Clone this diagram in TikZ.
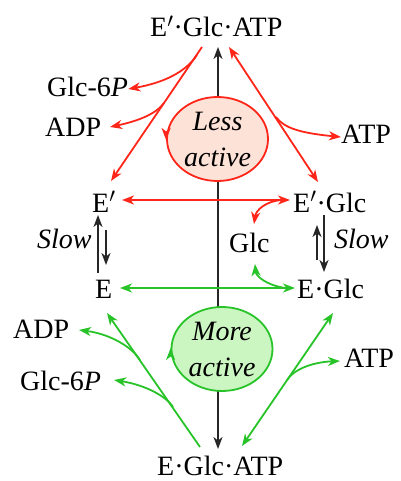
\documentclass[tikz,border=0pt]{standalone}
\usepackage{fontspec}
\setmainfont{Liberation Serif}
\usetikzlibrary{arrows.meta,shapes.geometric}
\definecolor{rline}{RGB}{255,38,25}
\definecolor{gline}{RGB}{40,195,40}
\definecolor{rfill}{RGB}{253,226,216}
\definecolor{gfill}{RGB}{203,246,194}
\tikzset{
  lbl/.style={anchor=base west,inner sep=0pt,font=\fontsize{28}{34}\selectfont},
  tip/.style={-{Stealth[length=12pt,width=9pt,inset=3.5pt]}},
  btip/.style={{Stealth[length=12pt,width=9pt,inset=3.5pt]}-{Stealth[length=12pt,width=9pt,inset=3.5pt]}},
  redc/.style={draw=rline,line width=1.8pt},
  grnc/.style={draw=gline,line width=1.8pt},
  blkc/.style={draw=black!85,line width=1.7pt},
  blob/.style={ellipse,line width=1.8pt,inner sep=0pt,minimum width=101pt,minimum height=84pt,align=center,font=\fontsize{28}{36}\selectfont\itshape}
}
\begin{document}
\begin{tikzpicture}[x=1pt,y=-1pt]
\useasboundingbox (0,0) rectangle (400,481);
% text nodes
\node[lbl] (EGAt) at (150,37) {E$'$·Glc·ATP};
\node[lbl] (G6Pt) at (47,97) {Glc-6\textit{P}};
\node[lbl] (ADPt) at (45,137) {ADP};
\node[lbl] (ATPt) at (341,143) {ATP};
\node[lbl] (Ep) at (92,212) {E$'$};
\node[lbl] (EpG) at (293,212) {E$'$·Glc};
\node[lbl] (Glc) at (229,252) {Glc};
\node[lbl,font=\fontsize{28}{34}\selectfont\itshape] (SlowL) at (37,248) {Slow};
\node[lbl,font=\fontsize{28}{34}\selectfont\itshape] (SlowR) at (334,248) {Slow};
\node[lbl] (E) at (95,298) {E};
\node[lbl] (EG) at (297,298) {E·Glc};
\node[lbl] (ADPb) at (13,338) {ADP};
\node[lbl] (ATPb) at (344,367) {ATP};
\node[lbl] (G6Pb) at (20,390) {Glc-6\textit{P}};
\node[lbl] (EGAb) at (157,475) {E·Glc·ATP};
% coordinates
\coordinate (vT) at (218,47);
\coordinate (vB) at (218,449);
% black vertical connector (behind the blobs)
\draw[blkc,btip] (vT) -- (vB);
% blobs
\node[blob,draw=rline,fill=rfill] (Less) at (217.5,139) {Less\\active};
\node[blob,draw=gline,fill=gfill] (More) at (222,349) {More\\active};
\draw[redc,tip] ([yshift=5pt]Less.west) -- ([yshift=-1pt]Less.west);
\draw[grnc,tip] ([yshift=-5pt]More.west) -- ([yshift=1pt]More.west);
% red connectors
\coordinate (rLs) at (202,47);
\coordinate (rLe) at (111,181);
\draw[redc,tip] (rLs) -- (rLe);
\coordinate (rG6s) at (197,55);
\draw[redc,tip] (rG6s) .. controls (185,73) and (162,83) .. (G6Pt.east|-0,89);
\coordinate (rADs) at (164,103);
\draw[redc,tip] (rADs) .. controls (156,114) and (138,121) .. (110,127);
\coordinate (rRt) at (229,47);
\coordinate (rRb) at (318,182);
\draw[redc,btip] (rRt) -- (rRb);
\coordinate (rATs) at (276,117);
\draw[redc,tip] (rATs) .. controls (284,128) and (300,133) .. (ATPt.west|-0,137);
\coordinate (rHl) at (122,200);
\coordinate (rHr) at (290,200);
\draw[redc,btip] (rHl) -- (rHr);
\coordinate (rGls) at (282,200);
\draw[redc,tip] (rGls) .. controls (266,201) and (256,210) .. (254,224);
% green connectors
\coordinate (gHl) at (120,288);
\coordinate (gHr) at (295,288);
\draw[grnc,btip] (gHl) -- (gHr);
\coordinate (gGls) at (285,288);
\draw[grnc,tip] (gGls) .. controls (266,285) and (256,276) .. (255,264);
\coordinate (gLb) at (200,447);
\coordinate (gLt) at (107,313);
\draw[grnc,tip] (gLb) -- (gLt);
\coordinate (gADs) at (140,360);
\draw[grnc,tip] (gADs) .. controls (132,347) and (110,334) .. (79,330);
\coordinate (gG6s) at (173,407);
\draw[grnc,tip] (gG6s) .. controls (166,396) and (145,385) .. (114,380);
\coordinate (gRb) at (242,446);
\coordinate (gRt) at (333,313);
\draw[grnc,btip] (gRb) -- (gRt);
\coordinate (gATs) at (287,380);
\draw[grnc,tip] (gATs) .. controls (295,368) and (315,362) .. (340,361);
% slow arrows
\coordinate (sl1a) at (98,273); \coordinate (sl1b) at (98,215);
\coordinate (sl2a) at (106,230); \coordinate (sl2b) at (106,265);
\coordinate (sr1a) at (317,260); \coordinate (sr1b) at (317,225);
\coordinate (sr2a) at (324,215); \coordinate (sr2b) at (324,272);
\draw[blkc,tip] (sl1a) -- (sl1b);
\draw[blkc,tip] (sl2a) -- (sl2b);
\draw[blkc,tip] (sr1a) -- (sr1b);
\draw[blkc,tip] (sr2a) -- (sr2b);
\end{tikzpicture}
\end{document}
